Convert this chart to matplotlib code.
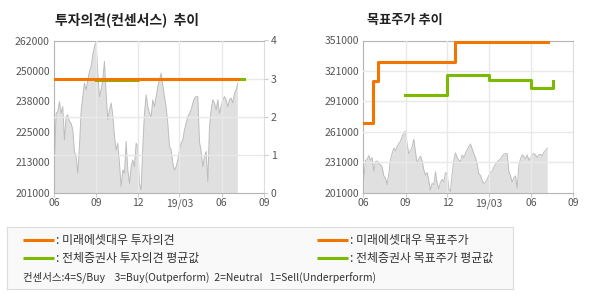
import matplotlib
matplotlib.use("Agg")
import matplotlib.pyplot as plt
import pandas as pd

plt.rcParams['font.family'] = ['Noto Sans CJK KR', 'DejaVu Sans']

# 주가 (일부 표본, 2018-06-02 ~ 2019-07-06)
price_values = [
    214100, 232800, 233500, 237500, 232800, 235500, 222100, 231500, 232200, 229500,
    228800, 226200, 217500, 215500, 208800, 219500, 233500, 239500, 244900, 242200,
    246200, 249600, 251600, 256300, 259600, 261600, 248900, 239500, 242200, 246200,
    253600, 240900, 230200, 234200, 236900, 232200, 223500, 218100, 220800, 212800,
    203400, 210100, 208800, 221500, 210100, 204700, 211400, 214100, 211400, 220800,
    219500, 204700, 202100, 219500, 232800, 240200, 235500, 232800, 231500, 238200,
    235500, 239500, 243500, 246200, 248900, 244200, 239500, 235500, 228800, 219500,
    218100, 212800, 210100, 211400, 214100, 218100, 220800, 222100, 226200, 228800,
    231500, 232800, 234200, 236900, 238900, 239500, 239500, 221500, 217500, 211400,
    215500, 217500, 205400, 227500, 234200, 238200, 236900, 234200, 238200, 232800,
    235500, 238200, 239500, 238200, 235500, 238200, 238900, 236900, 240900, 242200,
    244900,
]
price_dates = pd.date_range('2018-06-02', '2019-07-06', periods=len(price_values))

# 투자의견
mirae_op_dates = ['2018-06-01', '2019-07-07']
mirae_op_values = [3, 3]
cons_op_dates = ['2018-09-01', '2018-12-01', '2019-07-20']
cons_op_values = [2.96, 3, 3]

# 목표주가
mirae_tp_dates = ['2018-06-01', '2018-06-21', '2018-07-04', '2018-12-17', '2019-07-07']
mirae_tp_values = [270000, 311000, 330000, 350000, 350000]
cons_tp_dates = ['2018-08-31', '2018-12-01', '2019-03-01', '2019-06-01', '2019-07-19']
cons_tp_values = [297000, 317000, 312000, 304000, 311000]

xtick_dates = ['2018-06-01', '2018-09-01', '2018-12-01', '2019-03-01', '2019-06-01', '2019-09-01']
xtick_labels = ['06', '09', '12', '19/03', '06', '09']

left_ticks = [201000, 213200, 225400, 237600, 249800, 262000]
left_labels = ['201000', '213000', '225000', '238000', '250000', '262000']
right_ticks = [0, 1, 2, 3, 4]
tp_ticks = [201000, 231000, 261000, 291000, 321000, 351000]

ORANGE = '#f27500'
GREEN = '#7cba00'
FILL = '#e0e0e0'
EDGE = '#bdbdbd'
GRID = '#e9e9e9'
SPINE = '#b4b4b4'
TXT = '#555555'

fig = plt.figure(figsize=(5.9, 3.0), dpi=100)

xt = pd.to_datetime(xtick_dates)
xmin, xmax = pd.Timestamp('2018-06-01'), pd.Timestamp('2019-09-01')


def base_axes(rect):
    ax = fig.add_axes(rect)
    ax.fill_between(price_dates, price_values, 0, color=FILL, lw=0, zorder=1)
    ax.plot(price_dates, price_values, color=EDGE, lw=0.7, zorder=2)
    ax.set_xlim(xmin, xmax)
    ax.set_xticks(xt)
    ax.set_xticklabels(xtick_labels)
    for d in xt[1:-1]:
        ax.axvline(d, color=GRID, lw=1.0, zorder=3)
    for s in ['left', 'bottom', 'top']:
        ax.spines[s].set_color(SPINE)
    ax.spines['right'].set_color('#dddddd')
    ax.tick_params(axis='x', length=3, color='#cccccc', labelsize=7.5, labelcolor=TXT, pad=1)
    ax.tick_params(axis='y', length=0, labelsize=7.5, labelcolor=TXT, pad=3)
    return ax


# 왼쪽: 투자의견
ax1 = base_axes([0.0915, 0.358, 0.356, 0.507])
ax1.set_ylim(201000, 262000)
ax1.set_yticks(left_ticks)
ax1.set_yticklabels(left_labels)
ax1b = ax1.twinx()
ax1b.set_ylim(0, 4)
ax1b.set_yticks(right_ticks)
for v in right_ticks[1:-1]:
    ax1b.axhline(v, color=GRID, lw=1.0, zorder=1)
ax1b.step(pd.to_datetime(cons_op_dates), cons_op_values, where='post', color=GREEN, lw=2.2, zorder=3)
ax1b.step(pd.to_datetime(mirae_op_dates), mirae_op_values, where='post', color=ORANGE, lw=2.2, zorder=4)
ax1b.set_xlim(xmin, xmax)
for s in ax1b.spines.values():
    s.set_visible(False)
ax1b.tick_params(axis='y', length=3, color='#cccccc', labelsize=7.5, labelcolor=TXT, pad=2)

# 오른쪽: 목표주가
ax2 = base_axes([0.6158, 0.358, 0.356, 0.507])
ax2.set_ylim(201000, 351000)
ax2.set_yticks(tp_ticks)
for v in tp_ticks[1:-1]:
    ax2.axhline(v, color=GRID, lw=1.0, zorder=3)
ax2.step(pd.to_datetime(mirae_tp_dates), mirae_tp_values, where='post', color=ORANGE, lw=2.2, zorder=5)
ax2.step(pd.to_datetime(cons_tp_dates), cons_tp_values, where='post', color=GREEN, lw=2.2, zorder=5)

fig.text(0.093, 0.933, '투자의견(컨센서스)  추이', fontsize=10, fontweight='bold',
         color='#222222', va='center', ha='left')
fig.text(0.622, 0.933, '목표주가 추이', fontsize=9.5, fontweight='bold',
         color='#222222', va='center', ha='left')

# 범례 박스
lg = fig.add_axes([0.0124, 0.036, 0.857, 0.207])
lg.set_xlim(0, 505.7)
lg.set_ylim(62, 0)
lg.set_facecolor('#f9f9f9')
for s in lg.spines.values():
    s.set_color('#dcdcdc')
lg.set_xticks([])
lg.set_yticks([])

legend_items = [
    (15.4, 13, ORANGE, ': 미래에셋대우 투자의견'),
    (15.4, 31, GREEN, ': 전체증권사 투자의견 평균값'),
    (309.4, 13, ORANGE, ': 미래에셋대우 목표주가'),
    (309.4, 31, GREEN, ': 전체증권사 목표주가 평균값'),
]
for x0, y0, c, label in legend_items:
    lg.plot([x0, x0 + 31], [y0, y0], color=c, lw=2.2, solid_capstyle='butt')
    lg.text(x0 + 33, y0, label, fontsize=8.6, color='#333333', va='center', ha='left')
lg.text(15.4, 50, '컨센서스:4=S/Buy    3=Buy(Outperform)  2=Neutral   1=Sell(Underperform)',
        fontsize=7.5, color='#333333', va='center', ha='left')

fig.savefig('out.png', dpi=100)
